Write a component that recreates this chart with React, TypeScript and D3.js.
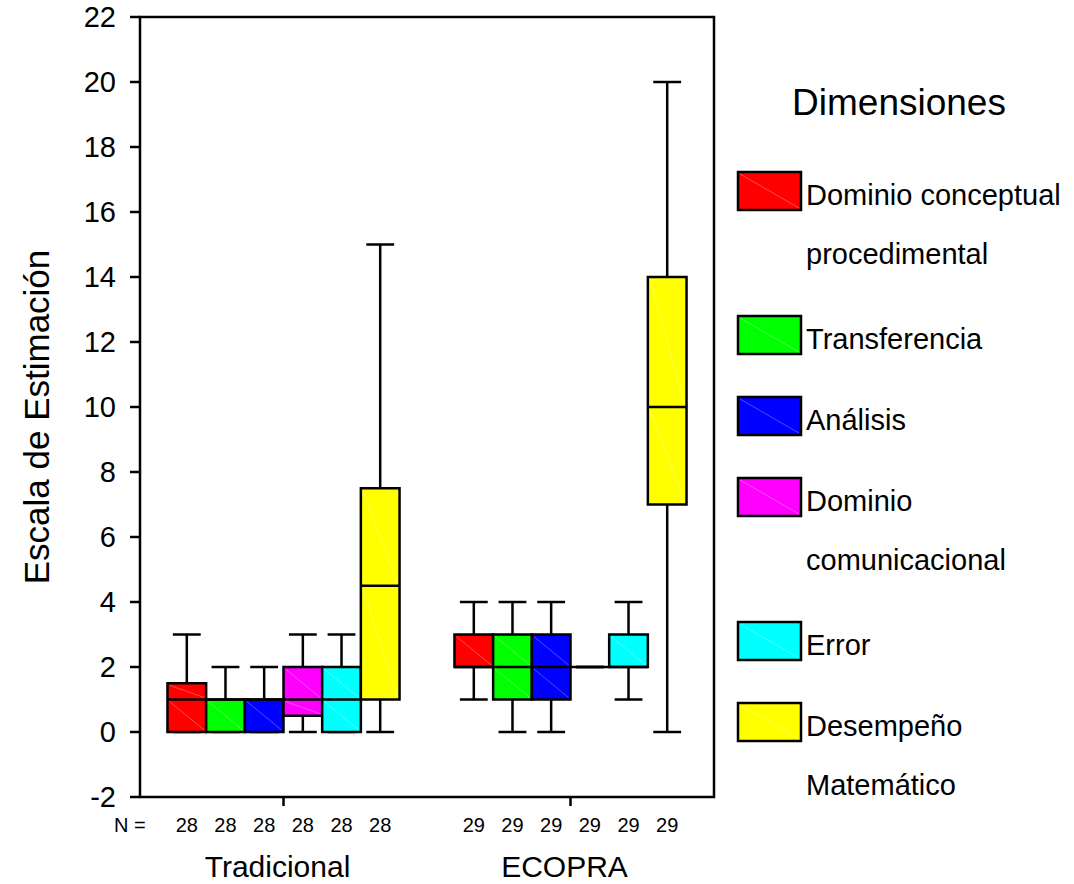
import React from "react";
import * as d3 from "d3";

// Categories and values
const groups = ["Tradicional", "ECOPRA"];
const groupN = [28, 29];
const dimensions = [
  "Dominio conceptual procedimental",
  "Transferencia",
  "Análisis",
  "Dominio comunicacional",
  "Error",
  "Desempeño Matemático",
];
const legendLines = [
  ["Dominio conceptual", "procedimental"],
  ["Transferencia"],
  ["Análisis"],
  ["Dominio", "comunicacional"],
  ["Error"],
  ["Desempeño", "Matemático"],
];
const dimColors = ["#ff0000", "#00ff00", "#0000ff", "#ff00ff", "#00ffff", "#ffff00"];

// Tradicional
const tradMin = [0, 0, 0, 0, 0, 0];
const tradQ1 = [0, 0, 0, 0.5, 0, 1];
const tradMedian = [1, 1, 1, 1, 1, 4.5];
const tradQ3 = [1.5, 1, 1, 2, 2, 7.5];
const tradMax = [3, 2, 2, 3, 3, 15];

// ECOPRA
const ecoMin = [1, 0, 0, 2, 1, 0];
const ecoQ1 = [2, 1, 1, 2, 2, 7];
const ecoMedian = [2, 2, 2, 2, 2, 10];
const ecoQ3 = [3, 3, 3, 2, 3, 14];
const ecoMax = [4, 4, 4, 2, 4, 20];

const yTicks = [-2, 0, 2, 4, 6, 8, 10, 12, 14, 16, 18, 20, 22];

const statsByGroup = [
  { min: tradMin, q1: tradQ1, med: tradMedian, q3: tradQ3, max: tradMax },
  { min: ecoMin, q1: ecoQ1, med: ecoMedian, q3: ecoQ3, max: ecoMax },
];

const font = "'Liberation Sans', Arial, sans-serif";

export default function App() {
  const width = 1074;
  const height = 884;
  const plot = { left: 140, right: 714, top: 17, bottom: 797 };

  const y = d3.scaleLinear().domain([-2, 22]).range([plot.bottom, plot.top]);
  const xGroup = d3.scaleBand().domain(groups).range([plot.left, plot.right]);
  const xDim = d3
    .scaleBand()
    .domain(dimensions)
    .range([0, xGroup.bandwidth()])
    .paddingInner(0)
    .paddingOuter(0.71);
  const bw = xDim.bandwidth();
  const capW = bw * 0.72;

  const boxes = groups.flatMap((g, gi) =>
    dimensions.map((d, di) => {
      const s = statsByGroup[gi];
      const x0 = (xGroup(g) as number) + (xDim(d) as number);
      return {
        key: `${g}-${d}`,
        x0,
        cx: x0 + bw / 2,
        color: dimColors[di],
        min: s.min[di],
        q1: s.q1[di],
        med: s.med[di],
        q3: s.q3[di],
        max: s.max[di],
      };
    })
  );

  // legend layout
  const legendX = 738;
  let ly = 172;
  const legendItems = legendLines.map((lines, i) => {
    const item = { lines, y: ly, color: dimColors[i] };
    ly += 81 + (lines.length - 1) * 63;
    return item;
  });

  return (
    <svg
      width={width}
      height={height}
      style={{ position: "absolute", left: 0, top: 0, background: "#fff" }}
      fontFamily={font}
    >
      {/* whiskers */}
      {boxes.map((b) => (
        <g key={`w-${b.key}`} stroke="#000" strokeWidth={2.5}>
          <line x1={b.cx} x2={b.cx} y1={y(b.min)} y2={y(b.q1)} />
          <line x1={b.cx} x2={b.cx} y1={y(b.q3)} y2={y(b.max)} />
          <line x1={b.cx - capW / 2} x2={b.cx + capW / 2} y1={y(b.min)} y2={y(b.min)} />
          <line x1={b.cx - capW / 2} x2={b.cx + capW / 2} y1={y(b.max)} y2={y(b.max)} />
        </g>
      ))}

      {/* boxes */}
      {boxes.map((b) => (
        <g key={`b-${b.key}`}>
          <rect
            x={b.x0}
            y={y(b.q3)}
            width={bw}
            height={y(b.q1) - y(b.q3)}
            fill={b.color}
            stroke="#000"
            strokeWidth={2.5}
          />
          {b.q3 > b.med && (
            <line x1={b.x0 + 2} y1={y(b.q3) + 2} x2={b.x0 + bw - 2} y2={y(b.med) - 2}
              stroke="#fff" strokeOpacity={0.3} strokeWidth={1} />
          )}
          {b.med > b.q1 && (
            <line x1={b.x0 + 2} y1={y(b.med) + 2} x2={b.x0 + bw - 2} y2={y(b.q1) - 2}
              stroke="#fff" strokeOpacity={0.3} strokeWidth={1} />
          )}
          <line x1={b.x0} x2={b.x0 + bw} y1={y(b.med)} y2={y(b.med)} stroke="#000" strokeWidth={2.5} />
        </g>
      ))}

      {/* frame */}
      <rect
        x={plot.left}
        y={plot.top}
        width={plot.right - plot.left}
        height={plot.bottom - plot.top}
        fill="none"
        stroke="#000"
        strokeWidth={2.5}
      />

      {/* y axis */}
      {yTicks.map((t) => (
        <g key={`t-${t}`}>
          <line x1={plot.left - 10} x2={plot.left} y1={y(t)} y2={y(t)} stroke="#000" strokeWidth={2.5} />
          <text x={116} y={y(t)} dy="0.36em" textAnchor="end" fontSize={29}>
            {t}
          </text>
        </g>
      ))}
      <text
        transform={`translate(49,417) rotate(-90)`}
        textAnchor="middle"
        fontSize={35}
      >
        Escala de Estimación
      </text>

      {/* x axis: group ticks, N labels, group labels */}
      {groups.map((g, gi) => {
        const gc = (xGroup(g) as number) + xGroup.bandwidth() / 2;
        return (
          <g key={`g-${g}`}>
            <line x1={gc} x2={gc} y1={plot.bottom} y2={plot.bottom + 9} stroke="#000" strokeWidth={2.5} />
            <text x={gc - 6} y={877} textAnchor="middle" fontSize={30}>
              {g}
            </text>
          </g>
        );
      })}
      <text x={114} y={832} fontSize={20}>
        N =
      </text>
      {boxes.map((b, i) => (
        <text key={`n-${b.key}`} x={b.cx} y={832} textAnchor="middle" fontSize={20}>
          {groupN[Math.floor(i / dimensions.length)]}
        </text>
      ))}

      {/* legend */}
      <text x={899} y={115} textAnchor="middle" fontSize={37}>
        Dimensiones
      </text>
      {legendItems.map((it, i) => (
        <g key={`l-${i}`}>
          <rect x={legendX} y={it.y} width={63} height={38} fill={it.color} stroke="#000" strokeWidth={2.5} />
          <line x1={legendX + 2} y1={it.y + 2} x2={legendX + 61} y2={it.y + 36}
            stroke="#fff" strokeOpacity={0.3} strokeWidth={1} />
          {it.lines.map((ln, k) => (
            <text key={k} x={806} y={it.y + 33 + k * 59} fontSize={29}>
              {ln}
            </text>
          ))}
        </g>
      ))}
    </svg>
  );
}
